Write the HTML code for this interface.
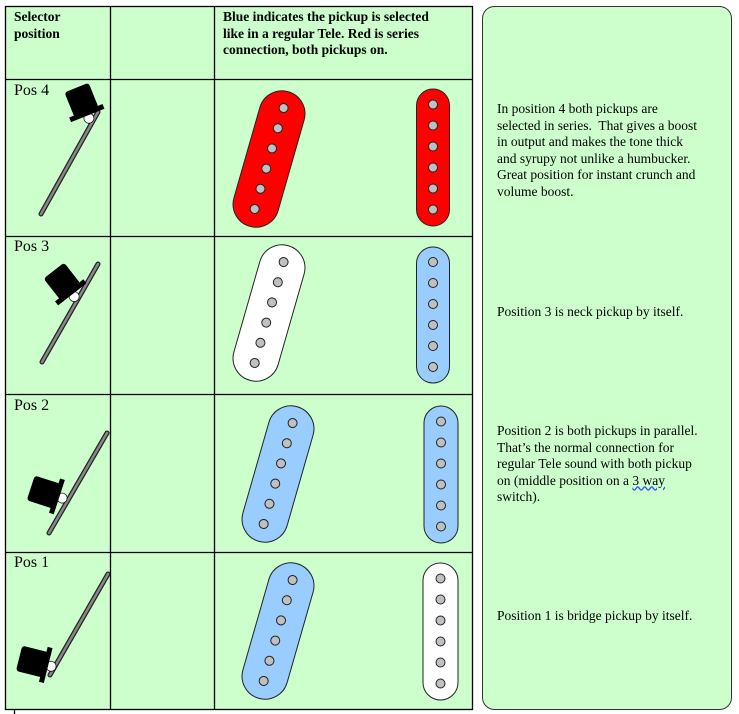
<!DOCTYPE html>
<html><head><meta charset="utf-8"><style>
body{margin:0;width:739px;height:714px;background:#fff;overflow:hidden;position:relative;font-family:"Liberation Serif",serif;}
.t{position:absolute;font-size:13.5px;line-height:16.5px;color:#000;}
.b{font-weight:bold;}
</style></head><body>
<svg width="739" height="714" style="position:absolute;left:0;top:0">
<defs>
<g id="hat">
<circle cx="0" cy="-3" r="5" fill="#fff" stroke="#000" stroke-width="0.7"/>
<rect x="-18" y="-11" width="36" height="5" fill="#000"/>
<rect x="-13" y="-36" width="26" height="27" rx="3" fill="#000"/>
</g>
<g id="dots6">
<circle cx="0" cy="-53" r="4.5"/><circle cx="0" cy="-32" r="4.5"/><circle cx="0" cy="-11" r="4.5"/><circle cx="0" cy="10" r="4.5"/><circle cx="0" cy="31" r="4.5"/><circle cx="0" cy="52" r="4.5"/>
</g>
</defs>
<rect x="5" y="6" width="467" height="703" fill="#ccffcc"/>
<rect x="482.5" y="6.5" width="249" height="703" rx="12" fill="#ccffcc" stroke="#333" stroke-width="1"/>
<g stroke="#000" stroke-width="1.3" fill="none">
<rect x="5.5" y="6.5" width="467" height="703"/>
<line x1="110.5" y1="6" x2="110.5" y2="709"/>
<line x1="214.5" y1="6" x2="214.5" y2="709"/>
<line x1="5" y1="79.5" x2="472" y2="79.5"/>
<line x1="5" y1="236.5" x2="472" y2="236.5"/>
<line x1="5" y1="394.5" x2="472" y2="394.5"/>
<line x1="5" y1="552.5" x2="472" y2="552.5"/>
<line x1="14.5" y1="710" x2="14.5" y2="714"/>
</g>
<g stroke="#222" stroke-width="1">
<g transform="translate(269,159) rotate(16)"><rect x="-23" y="-70" width="46" height="140" rx="23" fill="#ff0000"/><use href="#dots6" fill="#c0c0c0"/></g>
<g transform="translate(269,313) rotate(16)"><rect x="-23" y="-70" width="46" height="140" rx="23" fill="#ffffff"/><use href="#dots6" fill="#c0c0c0"/></g>
<g transform="translate(278,474) rotate(16)"><rect x="-23" y="-70" width="46" height="140" rx="23" fill="#99ccff"/><use href="#dots6" fill="#c0c0c0"/></g>
<g transform="translate(278,631) rotate(16)"><rect x="-23" y="-70" width="46" height="140" rx="23" fill="#99ccff"/><use href="#dots6" fill="#c0c0c0"/></g>
<g transform="translate(433,157.5)"><rect x="-16.5" y="-68.5" width="33" height="137" rx="16.5" fill="#ff0000"/><use href="#dots6" fill="#c0c0c0"/></g>
<g transform="translate(433,315)"><rect x="-16.5" y="-68" width="33" height="136" rx="16.5" fill="#99ccff"/><use href="#dots6" fill="#c0c0c0"/></g>
<g transform="translate(441,474.5)"><rect x="-17" y="-68.5" width="34" height="137" rx="17" fill="#99ccff"/><use href="#dots6" fill="#c0c0c0"/></g>
<g transform="translate(440.5,631.5)"><rect x="-17.5" y="-68.5" width="35" height="137" rx="17.5" fill="#ffffff"/><use href="#dots6" fill="#c0c0c0"/></g>
</g>
<g stroke-linecap="round">
<line x1="41" y1="214" x2="98" y2="112" stroke="#222" stroke-width="5"/><line x1="41" y1="214" x2="98" y2="112" stroke="#888" stroke-width="2.5"/>
<line x1="42" y1="362" x2="98" y2="264" stroke="#222" stroke-width="5"/><line x1="42" y1="362" x2="98" y2="264" stroke="#888" stroke-width="2.5"/>
<line x1="49" y1="533" x2="107" y2="433" stroke="#222" stroke-width="5"/><line x1="49" y1="533" x2="107" y2="433" stroke="#888" stroke-width="2.5"/>
<line x1="50" y1="675" x2="108" y2="574" stroke="#222" stroke-width="5"/><line x1="50" y1="675" x2="108" y2="574" stroke="#888" stroke-width="2.5"/>
</g>
<use href="#hat" transform="translate(90,121) rotate(-22)"/>
<use href="#hat" transform="translate(76,299) rotate(-38)"/>
<use href="#hat" transform="translate(65,499) rotate(-72)"/>
<use href="#hat" transform="translate(54,667) rotate(-76)"/>
</svg>
<div class="t b" style="left:14px;top:9px">Selector<br>position</div>
<div class="t b" style="left:223px;top:9px">Blue indicates the pickup is selected<br>like in a regular Tele. Red is series<br>connection, both pickups on.</div>
<div class="t" style="left:14px;top:83px;font-size:16px">Pos 4</div>
<div class="t" style="left:14px;top:239px;font-size:16px">Pos 3</div>
<div class="t" style="left:14px;top:398px;font-size:16px">Pos 2</div>
<div class="t" style="left:14px;top:555px;font-size:16px">Pos 1</div>
<div class="t" style="left:497px;top:101px">In position 4 both pickups are<br>selected in series.&nbsp; That gives a boost<br>in output and makes the tone thick<br>and syrupy not unlike a humbucker.<br>Great position for instant crunch and<br>volume boost.</div>
<div class="t" style="left:497px;top:304px">Position 3 is neck pickup by itself.</div>
<div class="t" style="left:497px;top:423px">Position 2 is both pickups in parallel.<br>That’s the normal connection for<br>regular Tele sound with both pickup<br>on (middle position on a <span style="text-decoration:underline wavy #3355ff">3 way</span><br>switch).</div>
<div class="t" style="left:497px;top:608px">Position 1 is bridge pickup by itself.</div>
</body></html>
